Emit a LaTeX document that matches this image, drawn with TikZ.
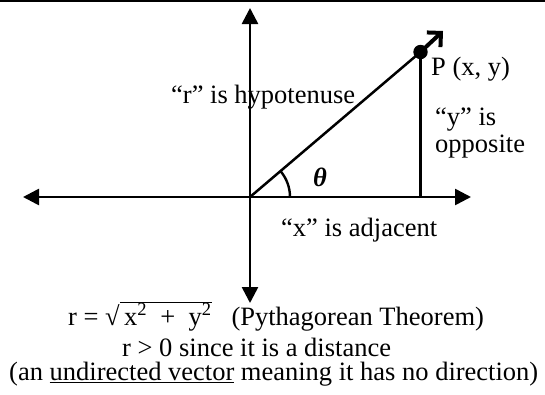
\documentclass[tikz,border=0pt]{standalone}
\usepackage{fontspec}
\setmainfont{Liberation Serif}
\usetikzlibrary{arrows.meta}
\begin{document}
\begin{tikzpicture}[x=1pt,y=1pt,
  axis/.style={line width=2.6pt,{Triangle[length=16pt,width=16pt]}-{Triangle[length=16pt,width=16pt]}},
  segline/.style={line width=2.5pt},
  lbl/.style={anchor=base west,inner sep=0pt,font=\fontsize{26.5}{30}\selectfont}]
\useasboundingbox (0,0) rectangle (545,-394);
% top rule
\coordinate (TL) at (0,-0.8);
\coordinate (TR) at (545,-0.8);
\draw[line width=1.6pt] (TL) -- (TR);
% points
\coordinate (O) at (250,-197);
\coordinate (P) at (420.5,-52);
\coordinate (F) at (420.5,-197);
\coordinate (Q) at (443,-31);
\coordinate (AL) at (23,-197);
\coordinate (AR) at (471,-197);
\coordinate (AT) at (250,-8);
\coordinate (AB) at (250,-303);
% axes
\draw[axis] (AL) -- (AR);
\draw[axis] (AB) -- (AT);
% triangle
\draw[segline] (O) -- (P);
\draw[segline] (P) -- (F);
\draw[line width=4pt,-{Straight Barb[length=10pt,width=20pt]}] (P) -- (Q);
\fill (P) circle (7.2);
% angle arc
\draw[line width=2.4pt] (O) ++(40,0) arc[start angle=0,end angle=40.5,radius=40];
% labels
\node[lbl] (hyp) at (171,-103) {“r” is hypotenuse};
\node[lbl] (th) at (313,-186) {\textbf{\textit{θ}}};
\node[lbl] (pxy) at (431,-75) {P (x, y)};
\node[lbl] (yis) at (435,-125) {“y” is};
\node[lbl] (opp) at (435,-152) {opposite};
\node[lbl] (adj) at (281,-236) {“x” is adjacent};
\node[lbl] (pyth) at (68,-325) {r = √$\overline{\hbox{\,x\textsuperscript{2}\ \ +\ \ y\textsuperscript{2}}}$\ \ \ (Pythagorean Theorem)};
\node[lbl] (dist) at (122,-356) {r > 0 since it is a distance};
\node[lbl] (undir) at (9,-380.5) {(an \underline{undirected vector} meaning it has no direction)};
\end{tikzpicture}
\end{document}
